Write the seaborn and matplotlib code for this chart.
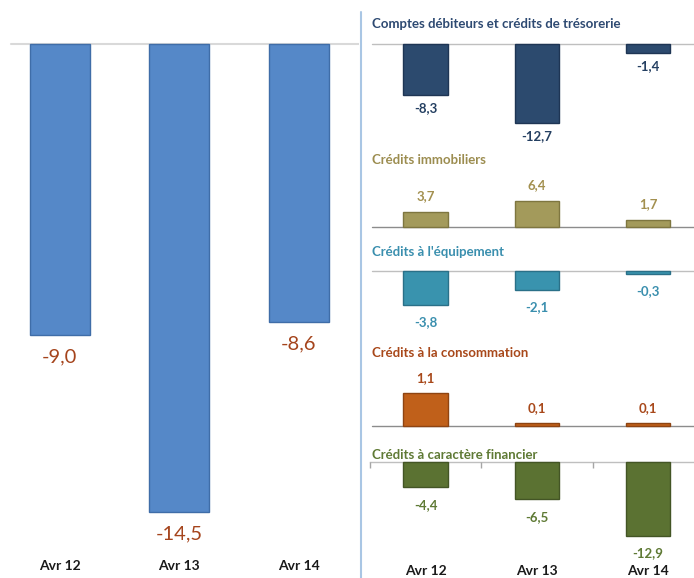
import matplotlib
matplotlib.use("Agg")
import matplotlib.pyplot as plt
import seaborn as sns
import pandas as pd

# ---------------- data ----------------
periods = ["Avr 12", "Avr 13", "Avr 14"]
total_values = [-9.0, -14.5, -8.6]
comptes_values = [-8.3, -12.7, -1.4]
immobiliers_values = [3.7, 6.4, 1.7]
equipement_values = [-3.8, -2.1, -0.3]
consommation_values = [1.1, 0.1, 0.1]
financier_values = [-4.4, -6.5, -12.9]
panel_titles = [
    "Comptes débiteurs et crédits de trésorerie",
    "Crédits immobiliers",
    "Crédits à l'équipement",
    "Crédits à la consommation",
    "Crédits à caractère financier",
]

W, H = 694, 578
sns.set_theme(style="white")
plt.rcParams['font.family'] = ['Lato', 'DejaVu Sans']

fig = plt.figure(figsize=(W / 100, H / 100), dpi=100)


def add_ax(x0, x1, ytop, ybot):
    ax = fig.add_axes([x0 / W, 1 - ybot / H, (x1 - x0) / W, (ybot - ytop) / H])
    ax.patch.set_alpha(0)
    for s in ax.spines.values():
        s.set_visible(False)
    return ax


def fmt(v):
    return f"{v:.1f}".replace(".", ",")


def draw_bars(ax, values, color, edge, width):
    df = pd.DataFrame({"period": periods, "value": values})
    sns.barplot(data=df, x="period", y="value", order=periods, color=color,
                width=width, edgecolor=edge, linewidth=1.0, saturation=1,
                ax=ax, errorbar=None)
    ax.set_xlabel("")
    ax.set_ylabel("")
    ax.set_yticks([])


def label_bars(ax, values, color, offset, size, weight="bold"):
    for i, v in enumerate(values):
        dy = offset if v >= 0 else -offset
        ax.annotate(fmt(v), xy=(i, v), xytext=(0, dy), textcoords="offset pixels",
                    ha="center", va="center", color=color, fontsize=size,
                    fontweight=weight)


# ---------------- left panel ----------------
axL = add_ax(0, 358.5, 0, 556)
baseL, scaleL = 44, 32.3
axL.set_ylim(-(556 - baseL) / scaleL, baseL / scaleL)
draw_bars(axL, total_values, "#5588C8", "#3F6DA8", 0.5)
axL.set_xlim(-0.5, 2.5)
axL.axhline(0, xmin=0.03, xmax=1.0, color="#D9D9D9", lw=1.5, zorder=0)
label_bars(axL, total_values, "#A5441C", 22, 14.5, weight="normal")
axL.tick_params(axis="x", length=0, pad=3)
for t in axL.get_xticklabels():
    t.set_fontweight("bold")
    t.set_fontsize(10)
    t.set_color("#1A1A1A")

# separator
fig.add_artist(plt.Line2D([361 / W, 361 / W], [1 - 12 / H, 0], color="#A9C6E4", lw=1.5))

# ---------------- right panels ----------------
# (top px, bottom px, baseline px, px per unit, title y px, bar colour, edge, label colour, title colour, offset)
specs = [
    (10, 150, 44, 6.2, 24, "#2C4A6E", "#1E3554", "#243F61", "#2E4A72", 13),
    (150, 245, 227, 4.0, 160, "#A39A5B", "#7E7640", "#A3904F", "#9C8D50", 16),
    (245, 340, 271, 9.0, 252, "#3993AE", "#2A7088", "#3A8FAE", "#3A8FAE", 17),
    (340, 440, 426, 30.0, 353, "#C0601A", "#8E4412", "#A8481A", "#A8481A", 15),
    (440, 558, 462, 5.7, 455, "#5B7232", "#435525", "#5F7A35", "#5F7A35", 18),
]
series = [comptes_values, immobiliers_values, equipement_values,
          consommation_values, financier_values]

x0R, x1R = 370, 694
xr_max = -0.5 + (x1R - x0R) / 111.25
for k, (sp, vals, title) in enumerate(zip(specs, series, panel_titles)):
    ytop, ybot, base, scale, ty, col, edge, lcol, tcol, off = sp
    ax = add_ax(x0R, x1R, ytop, ybot)
    ax.set_ylim((base - ybot) / scale, (base - ytop) / scale)
    draw_bars(ax, vals, col, edge, 0.4)
    ax.set_xlim(-0.5, xr_max)
    label_bars(ax, vals, lcol, off, 9.5)
    fig.text(372 / W, 1 - ty / H, title, ha="left", va="center",
             color=tcol, fontsize=9.5, fontweight="bold")
    base_col = "#8C8C8C" if k in (1, 3) else "#BFBFBF"
    if k < 4:
        ax.axhline(0, xmin=0.005, xmax=1.0, color=base_col, lw=1.0, zorder=0)
        ax.set_xticks([])
    else:
        ax.spines["bottom"].set_visible(True)
        ax.spines["bottom"].set_position(("data", 0))
        ax.spines["bottom"].set_color("#BFBFBF")
        ax.spines["bottom"].set_linewidth(1.0)
        ax.spines["bottom"].set_zorder(0)
        ax.set_xticks([-0.5, 0.5, 1.5], minor=True)
        ax.tick_params(axis="x", which="minor", length=4, color="#A6A6A6",
                       direction="out", bottom=True)
        ax.tick_params(axis="x", which="major", length=0, pad=74)
        for t in ax.get_xticklabels():
            t.set_fontweight("bold")
            t.set_fontsize(10)
            t.set_color("#1A1A1A")

fig.savefig("out.png", dpi=100)
